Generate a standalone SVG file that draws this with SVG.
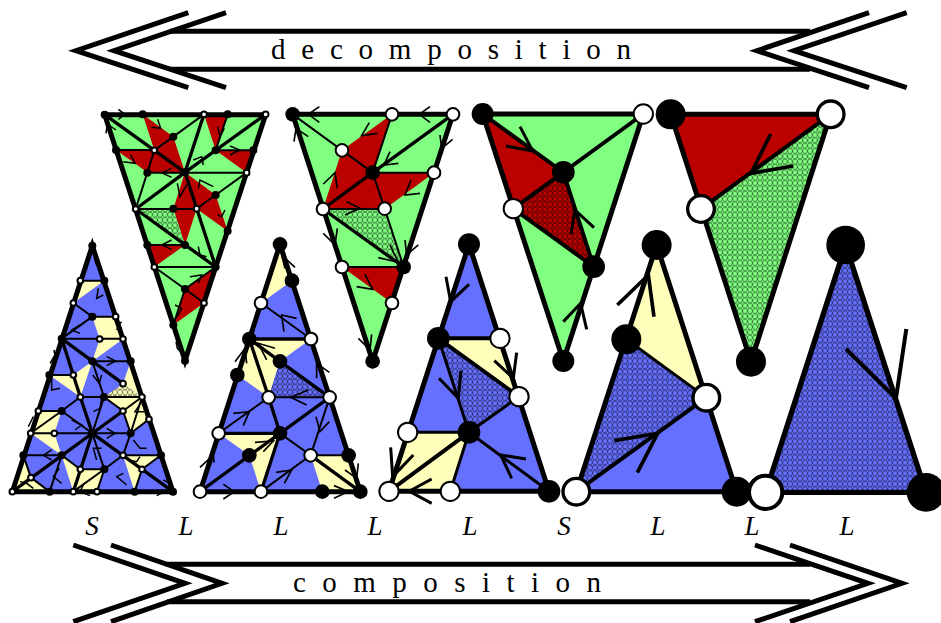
<svg xmlns="http://www.w3.org/2000/svg" width="941" height="623" viewBox="0 0 941 623">
<style>
.gr{fill:#80ff80}.re{fill:#bb0000}.bl{fill:#6670ff}.ye{fill:#ffffbb}
.o,.t,.n,.a,.c{fill:none;stroke:#000;stroke-linejoin:miter}
.o{stroke-width:15}.t{stroke-width:10}.n{stroke-width:6}.a{stroke-width:4.500}
.big .t{stroke-width:12}.big .n{stroke-width:9}.big .a{stroke-width:9}
.k{fill:#000}.w{fill:#fff;stroke:#000;stroke-width:6}
.lab{font-family:"Liberation Serif",serif;font-style:italic;font-size:27px;text-anchor:middle;fill:#000}
.ttl{font-family:"Liberation Serif",serif;font-size:29px;fill:#000}
</style>
<defs>
<g id="hx" fill="none" stroke="#000" stroke-width="2.400" stroke-opacity=".5"><path id="hw" d="M0 -1C7.500 -1 7.500 17 15 17C22.500 17 22.500 -1 30 -1M0 17C7.500 17 7.500 -1 15 -1C22.500 -1 22.500 17 30 17"/><use href="#hw" y="-16"/><use href="#hw" y="16"/></g>
<pattern id="hg" width="30" height="16" patternUnits="userSpaceOnUse"><rect width="30" height="16" fill="#80ff80"/><use href="#hx"/></pattern>
<pattern id="hr" width="30" height="16" patternUnits="userSpaceOnUse"><rect width="30" height="16" fill="#bb0000"/><use href="#hx"/></pattern>
<pattern id="hb" width="30" height="16" patternUnits="userSpaceOnUse"><rect width="30" height="16" fill="#6670ff"/><use href="#hx"/></pattern>
<pattern id="hy" width="30" height="16" patternUnits="userSpaceOnUse"><rect width="30" height="16" fill="#ffffbb"/><use href="#hx"/></pattern>
</defs>

<g id="arrow-decomposition" class="connectors">
<path d="M170 31.300H810M170 69.300H810" fill="none" stroke="#000" stroke-width="5"/>
<path d="M188.300 12.700L76 50.700L188.300 87.700M226 12.700L114 50.700L226 87.700M869 12.700L757 50.700L869 87.700M906.700 12.700L794 50.700L906.700 87.700" fill="none" stroke="#000" stroke-width="5"/>
<text class="ttl" x="271" y="59" textLength="360" lengthAdjust="spacing">d e c o m p o s i t i o n</text>
</g>

<g id="panel-a" transform="translate(90 100) scale(.3333)">
<path class="gr" d="M44 44H527L285 782Z"/>
<path class="re" d="M158 43L250 110L285 217L193 151ZM78 150H193L285 217H172ZM342 43H413L377 151ZM377 151H490L470 218ZM285 217L377 285L413 393L320 326ZM285 217L320 326L285 435L250 326ZM172 435H285L193 501ZM377 501L342 609L250 675L285 567Z"/>
<path d="M137 327H250L285 435Z" fill="url(#hg)"/>
<g class="connectors">
<path class="t" d="M44 44L285 217M527 43L285 217M137 327L285 217M137 327L377 501M285 217L377 501M342 43L285 217"/>
<path class="n" d="M78 150H193M377 151H490M172 218H470M137 327H320M172 435H285M193 501H377M193 151L250 110L342 43M413 43L377 151M193 151L172 218L137 327M470 218L377 285L320 326M193 501L285 567M285 567L377 501M285 567L342 609M285 567L250 675"/>
<path class="a" d="M85 28L105 43L85 58M48 100L52 72L78 90M203 58L212 85L185 82M245 205L215 218L245 232M122 165L135 190L100 185M403 85L390 110L383 80M420 138L450 150L420 165M310 180L335 170L340 195M370 260L330 240L325 265M262 250L270 290L290 255M245 420L215 435L245 448M350 470L330 465L325 440M325 550L335 525L300 530M258 725L262 745L272 755M383 345L395 350L405 330M262 650L275 625L255 615"/>
</g>
<path class="o" d="M44 44H527L285 782Z"/>
<g id="a-nodes">
<circle class="k" cx="44" cy="44" r="12"/><circle class="k" cx="158" cy="43" r="12"/><circle class="k" cx="413" cy="43" r="12"/><circle class="k" cx="78" cy="150" r="12"/><circle class="k" cx="250" cy="110" r="12"/><circle class="k" cx="377" cy="151" r="12"/><circle class="k" cx="490" cy="151" r="12"/><circle class="k" cx="172" cy="218" r="12"/><circle class="k" cx="285" cy="217" r="12"/><circle class="k" cx="377" cy="285" r="12"/><circle class="k" cx="250" cy="326" r="12"/><circle class="k" cx="413" cy="393" r="12"/><circle class="k" cx="172" cy="435" r="12"/><circle class="k" cx="285" cy="435" r="12"/><circle class="k" cx="377" cy="501" r="12"/><circle class="k" cx="285" cy="567" r="12"/><circle class="k" cx="250" cy="675" r="12"/><circle class="k" cx="285" cy="782" r="12"/>
<circle class="w" cx="342" cy="43" r="8.500"/><circle class="w" cx="527" cy="43" r="8.500"/><circle class="w" cx="193" cy="151" r="8.500"/><circle class="w" cx="470" cy="218" r="8.500"/><circle class="w" cx="137" cy="327" r="8.500"/><circle class="w" cx="320" cy="326" r="8.500"/><circle class="w" cx="193" cy="501" r="8.500"/><circle class="w" cx="342" cy="609" r="8.500"/>
</g>
</g>

<g id="panel-b" transform="translate(280 100) scale(.3333)">
<path class="gr" d="M38 43H519L278 784Z"/>
<path class="re" d="M336 43L186 151L129 327H314L462 218H278ZM186 501H371L336 609Z"/>
<path d="M129 327H314L371 501Z" fill="url(#hg)"/>
<g class="connectors">
<path class="t" d="M129 327L278 218L519 43M129 327L371 501"/>
<path class="n" d="M38 43L278 218M336 43L278 218M278 218H462M278 218L314 326M129 327H314M314 326L371 501M186 501H371"/>
<path class="a" d="M118 20L85 43L118 67M450 20L418 43L450 67M85 110L48 85L42 125M268 68L245 107L292 100M480 105L485 145L518 118M330 155L312 195L355 190M393 240L375 285L420 280M130 252L165 218L172 265M200 305L240 325L195 345M295 473L355 487L330 435M375 420L380 465L415 435M255 523L278 568L230 560M130 400L165 435L172 385M235 715L270 750L275 703" style="stroke-width:5"/>
</g>
<path class="o" d="M38 43H519L278 784Z"/>
<g id="b-nodes">
<circle class="k" cx="38" cy="43" r="22"/><circle class="k" cx="278" cy="218" r="22"/><circle class="k" cx="371" cy="501" r="22"/><circle class="k" cx="278" cy="784" r="22"/>
<circle class="w" cx="336" cy="43" r="19"/><circle class="w" cx="519" cy="43" r="19"/><circle class="w" cx="186" cy="151" r="19"/><circle class="w" cx="462" cy="218" r="19"/><circle class="w" cx="129" cy="327" r="19"/><circle class="w" cx="314" cy="326" r="19"/><circle class="w" cx="186" cy="501" r="19"/><circle class="w" cx="336" cy="609" r="19"/>
</g>
</g>

<g id="panel-c" class="big" transform="translate(470 95) scale(.3333)">
<path class="gr" d="M38 57H520L280 798Z"/>
<path class="re" d="M38 57L280 232L130 341Z"/>
<path d="M130 341L280 232L371 515Z" fill="url(#hr)"/>
<g class="connectors">
<path class="t" d="M38 57L280 232L520 57M130 341L280 232L371 515M130 341L371 515"/>
<path class="a" d="M150 95L188 168L108 153M372 398L315 345L303 418M280 680L332 625L350 703"/>
</g>
<path class="o" d="M38 57H520L280 798Z"/>
<g id="c-nodes">
<circle class="k" cx="38" cy="57" r="33"/><circle class="k" cx="280" cy="232" r="34"/><circle class="k" cx="371" cy="515" r="34"/><circle class="k" cx="280" cy="798" r="33"/>
<circle class="w" cx="520" cy="57" r="29"/><circle class="w" cx="130" cy="341" r="29"/>
</g>
</g>

<g id="panel-d" class="big" transform="translate(655 95) scale(.3333)">
<path class="re" d="M47 58H527L138 342Z"/>
<path d="M527 58L138 342L288 800Z" fill="url(#hg)"/>
<g class="connectors">
<path class="t" d="M527 58L138 342"/>
<path class="a" d="M347 117L288 235L415 213" style="stroke-width:11"/>
</g>
<path class="o" d="M47 58H527L288 800Z"/>
<g id="d-nodes">
<circle class="k" cx="47" cy="58" r="45"/><circle class="k" cx="288" cy="800" r="45"/>
<circle class="w" cx="527" cy="58" r="40" style="stroke-width:10"/><circle class="w" cx="138" cy="342" r="40" style="stroke-width:10"/>
</g>
</g>

<g id="panel-e" transform="translate(0 235) scale(.3333)">
<path class="bl" d="M277 32L519 770H37Z"/>
<path class="ye" d="M241 137H313L220 204ZM277 245H347L369 312H299ZM299 312H369L277 379ZM277 379L220 420L241 486ZM148 420H220L241 486ZM392 379L369 446L426 486ZM312 486H426L369 528ZM426 486L447 553L392 595L369 528ZM115 528H185L163 595H92ZM92 595H163L185 661ZM185 661L241 703L220 770ZM241 703H313L291 770H220ZM369 661H483L426 703ZM369 661L426 703L404 770ZM37 770L70 661L93 728ZM37 770L93 728L149 770Z"/>
<path d="M369 446L312 486H426Z" fill="url(#hy)"/>
<g class="connectors">
<path class="t" d="M37 770L369 528M185 311L369 446M277 595L519 770M277 595L241 486M277 595L220 770M185 311L241 486"/>
<path class="n" d="M241 137H313M277 245H347M185 311H369M277 379H392M148 420H220M241 486H426M115 528H185M92 595H392M70 661H185M369 661H483M220 204L277 245L185 311M277 379L312 486L277 595M185 528L241 486M185 528L92 595M185 528L277 595M312 486L369 528L392 595L447 553M426 486L392 595M369 528L426 486M392 595L369 661L426 703L404 770M426 703L483 661M426 703L519 770M185 661L241 703L313 703L277 595M313 703L369 661M313 703L291 770M313 703L220 770M185 661L149 770M93 728L70 661M93 728L149 770"/>
<path class="a" d="M283 70L290 90L305 95M295 160L290 190L310 180M240 270L215 285L240 295M320 365L347 378L320 392M278 420L298 445L305 420M155 430L155 465L180 460M215 555L245 570L225 585M305 490L300 520L280 530M320 580L345 595L320 610M155 645L130 661L155 675M178 700L160 725L185 745M305 640L280 640L290 675M370 715L350 725L380 750M400 615L420 640L440 640M385 675L410 680L420 665M425 500L405 530L432 530M100 545L95 555L85 575M162 345L165 360L150 385M365 260L360 265L350 285M60 740L80 745L100 760M250 750L240 770L270 782M470 782L490 772M505 720L510 745L490 735"/>
</g>
<path class="o" d="M277 32L519 770H37Z"/>
<g id="e-nodes">
<circle class="k" cx="277" cy="32" r="12"/><circle class="k" cx="313" cy="137" r="12"/><circle class="k" cx="277" cy="245" r="12"/><circle class="k" cx="185" cy="311" r="12"/><circle class="k" cx="277" cy="379" r="12"/><circle class="k" cx="392" cy="379" r="12"/><circle class="k" cx="148" cy="420" r="12"/><circle class="k" cx="312" cy="486" r="12"/><circle class="k" cx="185" cy="528" r="12"/><circle class="k" cx="277" cy="595" r="12"/><circle class="k" cx="392" cy="595" r="12"/><circle class="k" cx="70" cy="661" r="12"/><circle class="k" cx="185" cy="661" r="12"/><circle class="k" cx="483" cy="661" r="12"/><circle class="k" cx="313" cy="703" r="12"/><circle class="k" cx="149" cy="770" r="12"/><circle class="k" cx="404" cy="770" r="12"/><circle class="k" cx="519" cy="770" r="12"/>
<circle class="w" cx="241" cy="137" r="8.500"/><circle class="w" cx="220" cy="204" r="8.500"/><circle class="w" cx="347" cy="245" r="8.500"/><circle class="w" cx="299" cy="312" r="8.500"/><circle class="w" cx="369" cy="312" r="8.500"/><circle class="w" cx="220" cy="420" r="8.500"/><circle class="w" cx="369" cy="446" r="8.500"/><circle class="w" cx="241" cy="486" r="8.500"/><circle class="w" cx="426" cy="486" r="8.500"/><circle class="w" cx="115" cy="528" r="8.500"/><circle class="w" cx="369" cy="528" r="8.500"/><circle class="w" cx="447" cy="553" r="8.500"/><circle class="w" cx="92" cy="595" r="8.500"/><circle class="w" cx="163" cy="595" r="8.500"/><circle class="w" cx="369" cy="661" r="8.500"/><circle class="w" cx="241" cy="703" r="8.500"/><circle class="w" cx="426" cy="703" r="8.500"/><circle class="w" cx="93" cy="728" r="8.500"/><circle class="w" cx="37" cy="770" r="8.500"/><circle class="w" cx="220" cy="770" r="8.500"/><circle class="w" cx="291" cy="770" r="8.500"/>
</g>
</g>

<g id="panel-f" transform="translate(190 235) scale(.3333)">
<path class="bl" d="M270 28L511 770H30Z"/>
<path class="ye" d="M270 28L306 137L213 204ZM178 312H363L270 379ZM178 312L270 379L236 487L142 420ZM86 595H270L178 661ZM178 661L270 595L213 770ZM362 661H476L511 770H397Z"/>
<path d="M270 379L236 487H419Z" fill="url(#hb)"/>
<g class="connectors">
<path class="t" d="M178 312H363M178 312L270 379L419 487L270 595L30 770M178 312L236 487M86 595H270M362 661L511 770M270 595L213 770M236 487L270 595"/>
<path class="n" d="M236 487H419M213 204L363 312M86 595L236 487M270 595L362 661L476 661M419 487L362 661M362 661L213 770"/>
<path class="a" d="M315 97L275 60L285 100M320 250L275 240L282 290M255 340L205 325L230 375M135 380L165 340L170 385M380 430L380 385L418 412M350 510L302 487L355 465M130 535L178 530L160 572M378 545L390 590L418 560M195 622L250 618L220 650M258 712L305 705L283 745M30 697L70 660L72 683M100 748L133 770L100 792M432 752L475 770L432 790M505 685L500 730L465 705" style="stroke-width:5"/>
</g>
<path class="o" d="M270 28L511 770H30Z"/>
<g id="f-nodes">
<circle class="k" cx="270" cy="28" r="22"/><circle class="k" cx="306" cy="137" r="22"/><circle class="k" cx="178" cy="312" r="22"/><circle class="k" cx="270" cy="379" r="22"/><circle class="k" cx="142" cy="420" r="22"/><circle class="k" cx="270" cy="595" r="22"/><circle class="k" cx="178" cy="661" r="22"/><circle class="k" cx="476" cy="661" r="22"/><circle class="k" cx="397" cy="770" r="22"/><circle class="k" cx="511" cy="770" r="22"/>
<circle class="w" cx="213" cy="204" r="19"/><circle class="w" cx="363" cy="312" r="19"/><circle class="w" cx="236" cy="487" r="19"/><circle class="w" cx="419" cy="487" r="19"/><circle class="w" cx="86" cy="595" r="19"/><circle class="w" cx="362" cy="661" r="19"/><circle class="w" cx="30" cy="770" r="19"/><circle class="w" cx="213" cy="770" r="19"/>
</g>
</g>

<g id="panel-g" class="big" transform="translate(380 230) scale(.3333)">
<path class="bl" d="M267 43L507 784H27Z"/>
<path class="ye" d="M175 325H360L417 500ZM83 607H267L211 784H27Z"/>
<path d="M175 325L417 500L267 607Z" fill="url(#hb)"/>
<g class="connectors">
<path class="t" d="M175 325H360M175 325L417 500M267 607L27 784"/>
<path class="n" d="M175 325L267 607L417 500M83 607H267M267 607L211 784M267 607L507 784"/>
<path class="a" d="M198 140L212 215L267 163M410 368L400 445L343 392M243 422L235 505L177 445M438 687L362 675L395 745M32 652L38 740L100 675M155 747L88 784L155 820"/>
</g>
<path class="o" d="M267 43L507 784H27Z"/>
<g id="g-nodes">
<circle class="k" cx="267" cy="43" r="33"/><circle class="k" cx="175" cy="325" r="34"/><circle class="k" cx="267" cy="607" r="34"/><circle class="k" cx="507" cy="784" r="34"/>
<circle class="w" cx="360" cy="325" r="29"/><circle class="w" cx="417" cy="500" r="29"/><circle class="w" cx="83" cy="607" r="29"/><circle class="w" cx="27" cy="784" r="29"/><circle class="w" cx="211" cy="784" r="29"/>
</g>
</g>

<g id="panel-h" class="big" transform="translate(555 225) scale(.3333)">
<path class="bl" d="M454 518L64 800H545Z"/>
<path class="ye" d="M305 60L214 343L454 518Z"/>
<path d="M214 343L454 518L64 800Z" fill="url(#hb)"/>
<g class="connectors">
<path class="t" d="M454 518L64 800"/>
<path class="n" d="M214 343L454 518"/>
<path class="a" d="M187 240L280 150L297 275M178 647L308 625L247 743" style="stroke-width:11"/>
</g>
<path class="o" d="M305 60L545 800H64Z"/>
<g id="h-nodes">
<circle class="k" cx="305" cy="60" r="45"/><circle class="k" cx="214" cy="343" r="45"/><circle class="k" cx="545" cy="800" r="45"/>
<circle class="w" cx="454" cy="518" r="40" style="stroke-width:10"/><circle class="w" cx="64" cy="800" r="40" style="stroke-width:10"/>
</g>
</g>

<g id="panel-i" class="big" transform="translate(745 220) scale(.3333)">
<path d="M302 75L543 817H62Z" fill="url(#hb)"/>
<g class="connectors">
<path class="a" d="M303 387L453 535L484 327" style="stroke-width:12"/>
</g>
<path class="o" d="M302 75L543 817H62Z" style="stroke-width:16"/>
<g id="i-nodes">
<circle class="k" cx="302" cy="75" r="58"/><circle class="k" cx="543" cy="817" r="58"/>
<circle class="w" cx="62" cy="817" r="50" style="stroke-width:12"/>
</g>
</g>

<g id="labels">
<text class="lab" x="92" y="535">S</text><text class="lab" x="186" y="535">L</text><text class="lab" x="281" y="535">L</text><text class="lab" x="375" y="535">L</text><text class="lab" x="470" y="535">L</text><text class="lab" x="564" y="535">S</text><text class="lab" x="658" y="535">L</text><text class="lab" x="752" y="535">L</text><text class="lab" x="847" y="535">L</text>
</g>

<g id="arrow-composition" class="connectors">
<path d="M167 564.300H810M167 601.700H810" fill="none" stroke="#000" stroke-width="5"/>
<path d="M73.300 545L185 583.300L73.300 621.700M111 545L222 583.300L111 621.700M755 545L868 583.300L755 621.700M790 545L902 583.300L790 621.700" fill="none" stroke="#000" stroke-width="5"/>
<text class="ttl" x="293" y="592" textLength="308" lengthAdjust="spacing">c o m p o s i t i o n</text>
</g>
</svg>
